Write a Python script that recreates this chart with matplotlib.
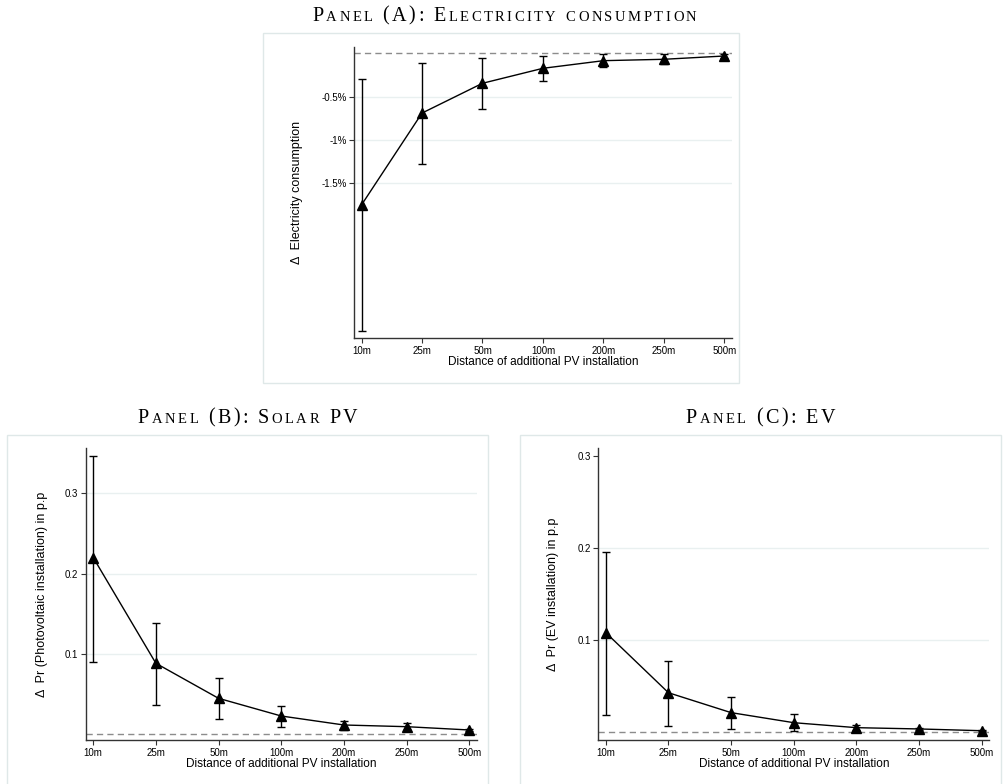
import numpy as np
import matplotlib
matplotlib.use("Agg")
import matplotlib.pyplot as plt
from matplotlib.patches import Rectangle
from matplotlib.offsetbox import TextArea, HPacker, AnnotationBbox

plt.rcParams["font.family"] = ["Liberation Sans", "DejaVu Sans"]

# ---------------------------------------------------------------- data
dist_labels = ["10m", "25m", "50m", "100m", "200m", "250m", "500m"]

# Panel A: change in electricity consumption (%)
elec = [-1.75, -0.69, -0.346, -0.173, -0.085, -0.069, -0.031]
elec_lo = [-3.20, -1.28, -0.643, -0.32, -0.16, -0.127, -0.05]
elec_hi = [-0.30, -0.115, -0.058, -0.031, -0.012, -0.012, -0.012]
elec_ticks = [-0.5, -1.0, -1.5]
elec_ticklabels = ["-0.5%", "-1%", "-1.5%"]

# Panel B: change in Pr(PV installation), p.p.
pv = [0.220, 0.0884, 0.0448, 0.0228, 0.0116, 0.0095, 0.0054]
pv_lo = [0.0904, 0.0365, 0.0187, 0.0095, 0.0054, 0.0054, 0.0040]
pv_hi = [0.347, 0.139, 0.0697, 0.0352, 0.0166, 0.0137, 0.0070]
pv_ticks = [0.1, 0.2, 0.3]

# Panel C: change in Pr(EV installation), p.p.
ev = [0.108, 0.0428, 0.0212, 0.0103, 0.0049, 0.0035, 0.0016]
ev_lo = [0.0187, 0.0071, 0.0031, 0.0013, 0.0020, 0.0020, 0.0008]
ev_hi = [0.195, 0.0776, 0.0385, 0.0194, 0.0076, 0.0050, 0.0025]
ev_ticks = [0.1, 0.2, 0.3]

xlabel = "Distance of additional PV installation"

fig = plt.figure(figsize=(10.07, 7.84), dpi=100)


def small_caps(text, x, y, big=14.5, small=10.5, sep=1.8):
    """Fake small caps: upper case letters big, lower case shrunk + upper-cased."""
    kids = []
    for ch in text:
        if ch.islower():
            ta = TextArea(ch.upper(), textprops=dict(fontsize=small, family="Liberation Serif"))
        else:
            ta = TextArea(ch, textprops=dict(fontsize=big, family="Liberation Serif"))
        kids.append(ta)
    box = HPacker(children=kids, align="baseline", pad=0, sep=sep)
    ab = AnnotationBbox(box, (x, y), xycoords="figure fraction", frameon=False,
                        box_alignment=(0.5, 0.5))
    fig.add_artist(ab)


def panel(rect, y, lo, hi, ticks, ticklabels, ylim, grid_vals, ylabel,
          ylabel_x, xlabel_y):
    ax = fig.add_axes(rect)
    x = np.arange(1, len(dist_labels) + 1)
    for g in grid_vals:
        ax.axhline(g, color="#e9f0f0", lw=1.0, zorder=0)
    ax.axhline(0, color="#8c8c8c", lw=1.0, ls=(0, (4.5, 3)), zorder=1)
    y = np.asarray(y)
    yerr = [y - np.asarray(lo), np.asarray(hi) - y]
    ax.errorbar(x, y, yerr=yerr, color="black", lw=1.0, elinewidth=1.0,
                capsize=2.8, capthick=1.0, marker="^", markersize=7,
                zorder=3)
    ax.set_xlim(0.88, 7.12)
    ax.set_ylim(*ylim)
    ax.set_xticks(x)
    ax.set_xticklabels(dist_labels)
    ax.set_yticks(ticks)
    ax.set_yticklabels(ticklabels)
    ax.tick_params(labelsize=7, length=3.5, width=0.8, color="#333333", pad=2)
    for s in ["top", "right"]:
        ax.spines[s].set_visible(False)
    for s in ["left", "bottom"]:
        ax.spines[s].set_linewidth(1.0)
        ax.spines[s].set_color("#333333")
    pos = ax.get_position()
    fig.text(ylabel_x, pos.y0 + pos.height / 2, ylabel, rotation=90,
             ha="center", va="center", fontsize=9)
    fig.text(pos.x0 + pos.width / 2, xlabel_y, xlabel, ha="center",
             va="center", fontsize=8.5)
    return ax


# frames
for (x0, y0, x1, y1) in [(263, 33, 739, 383), (7, 435, 488, 790), (520, 435, 1001, 790)]:
    fig.add_artist(Rectangle((x0 / 1007, 1 - y1 / 784), (x1 - x0) / 1007, (y1 - y0) / 784,
                             transform=fig.transFigure, fill=False,
                             edgecolor="#dfe8e8", lw=1.0))

panel([0.3518, 0.5685, 0.3748, 0.3719], elec, elec_lo, elec_hi,
      elec_ticks, elec_ticklabels, (-3.29, 0.076), elec_ticks,
      "\u0394  Electricity consumption", 296.7 / 1007, 1 - 362.3 / 784)

panel([0.0851, 0.0561, 0.3883, 0.3721], pv, pv_lo, pv_hi,
      pv_ticks, [f"{t:.1f}" for t in pv_ticks], (-0.0071, 0.356), pv_ticks,
      "\u0394  Pr (Photovoltaic installation) in p.p", 41.7 / 1007, 1 - 764 / 784)

panel([0.5941, 0.0561, 0.3883, 0.3721], ev, ev_lo, ev_hi,
      ev_ticks, [f"{t:.1f}" for t in ev_ticks], (-0.0085, 0.308), ev_ticks[:2],
      "\u0394  Pr (EV installation) in p.p", 553.3 / 1007, 1 - 764 / 784)

small_caps("Panel (A): Electricity consumption", 504.5 / 1007, 1 - 16 / 784)
small_caps("Panel (B): Solar PV", 247.5 / 1007, 1 - 418.3 / 784)
small_caps("Panel (C): EV", 760.5 / 1007, 1 - 418.3 / 784)

fig.savefig("out.png", dpi=100)
